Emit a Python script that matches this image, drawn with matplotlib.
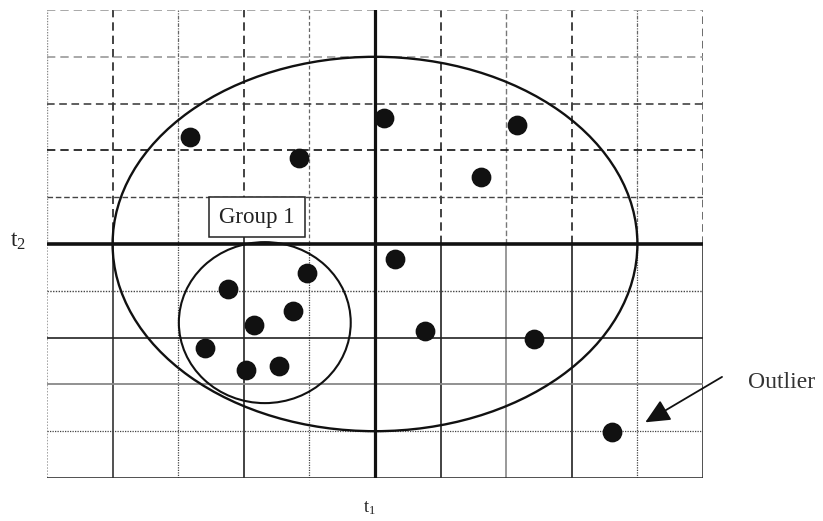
import numpy as np
import matplotlib
matplotlib.use("Agg")
from matplotlib import pyplot as plt
from matplotlib.patches import Ellipse, Rectangle

plt.rcParams['font.family'] = ['Liberation Serif', 'DejaVu Serif']
plt.rcParams['mathtext.fontset'] = 'stix'

# score plot points (t1, t2)
t1 = [-2.82, -1.16, 0.14, 2.16, 1.62,
      0.30, -1.04, -2.24, -1.25, -1.84, -2.59, -1.97, -1.46,
      0.76, 2.42, 3.61]
t2 = [2.29, 1.84, 2.69, 2.54, 1.43,
      -0.32, -0.62, -0.96, -1.43, -1.73, -2.22, -2.69, -2.61,
      -1.86, -2.03, -4.02]
outlier = (3.61, -4.02)

# group 1 ellipse and the whole-population ellipse
big_center, big_w, big_h = (0.0, 0.0), 8.0, 8.0
grp_center, grp_w, grp_h = (-1.68, -1.68), 2.62, 3.44

fig = plt.figure(figsize=(8.23, 5.21), dpi=100)
ax = fig.add_axes([47/823, 43/521, 656/823, 468/521])
ax.set_xlim(-5, 5)
ax.set_ylim(-5, 5)
ax.axis('off')

# grid: dashed above t2 axis, solid below, with a few line weights
upper_v = {-5: ('#888888', (0, (1, 1)), 1.0), -4: ('#222222', (0, (5, 3)), 1.2),
           -3: ('#666666', (0, (3, 1, 1, 1)), 0.9), -2: ('#222222', (0, (5, 3)), 1.2),
           -1: ('#666666', (0, (3, 2)), 0.9), 1: ('#222222', (0, (5, 3)), 1.2),
           2: ('#777777', (0, (4, 2)), 1.0), 3: ('#222222', (0, (5, 3)), 1.2),
           4: ('#666666', (0, (3, 1, 1, 1)), 0.9), 5: ('#444444', (0, (5, 3)), 1.1)}
lower_v = {-5: ('#888888', (0, (1, 1)), 1.1), -4: ('#333333', '-', 1.2),
           -3: ('#444444', (0, (1, 1)), 0.9), -2: ('#222222', '-', 1.2),
           -1: ('#444444', (0, (1, 1)), 0.9), 1: ('#222222', '-', 1.2),
           2: ('#888888', '-', 1.2), 3: ('#222222', '-', 1.2),
           4: ('#444444', (0, (1, 1)), 0.9), 5: ('#333333', '-', 1.2)}
upper_h = {5: ('#999999', (0, (5, 3)), 1.2), 4: ('#999999', (0, (5, 3)), 1.2),
           3: ('#333333', (0, (5, 3)), 1.1), 2: ('#111111', (0, (5, 3)), 1.2),
           1: ('#444444', (0, (4, 2)), 1.0)}
lower_h = {-1: ('#444444', (0, (1, 1)), 1.0), -2: ('#222222', '-', 1.2),
           -3: ('#888888', '-', 1.3), -4: ('#444444', (0, (1, 1)), 0.9),
           -5: ('#333333', '-', 1.2)}

for x, (c, ls, lw) in upper_v.items():
    ax.plot([x, x], [0, 5], color=c, ls=ls, lw=lw, zorder=1)
for x, (c, ls, lw) in lower_v.items():
    ax.plot([x, x], [-5, 0], color=c, ls=ls, lw=lw, zorder=1)
for y, (c, ls, lw) in upper_h.items():
    ax.plot([-5, 5], [y, y], color=c, ls=ls, lw=lw, zorder=1)
for y, (c, ls, lw) in lower_h.items():
    ax.plot([-5, 5], [y, y], color=c, ls=ls, lw=lw, zorder=1)

# t1 / t2 axes
ax.plot([-5, 5], [0, 0], color='#111111', lw=2.6, zorder=2)
ax.plot([0, 0], [-5, 5], color='#111111', lw=2.3, zorder=2)

ax.add_patch(Ellipse(big_center, big_w, big_h, fill=False, ec='#111111', lw=1.7, zorder=3))
ax.add_patch(Ellipse(grp_center, grp_w, grp_h, fill=False, ec='#111111', lw=1.5, zorder=3))

ax.scatter(t1, t2, s=175, color='#111111', zorder=4)

# group label box
ax.add_patch(Rectangle((-2.53, 0.15), 1.46, 0.85, fc='white', ec='#222222', lw=1.1, zorder=5))
ax.text(-1.80, 0.575, 'Group 1', ha='center', va='center', fontsize=16.5,
        color='#222222', zorder=6)

ax.annotate('', xy=(outlier[0] + 0.51, outlier[1] + 0.21), xytext=(5.29, -2.84),
            arrowprops=dict(arrowstyle='-|>,head_length=1.5,head_width=0.7',
                            color='#111111', lw=1.3, shrinkA=0, shrinkB=0),
            annotation_clip=False)
ax.text(5.69, -2.97, 'Outlier', ha='left', va='center', fontsize=17, color='#333333')

ax.text(-5.44, 0.05, r'$\mathregular{t_2}$', ha='center', va='center', fontsize=17, color='#222222')
ax.text(-0.08, -5.65, r'$\mathregular{t_1}$', ha='center', va='center', fontsize=13, color='#222222')

fig.savefig('out.png', dpi=100)
